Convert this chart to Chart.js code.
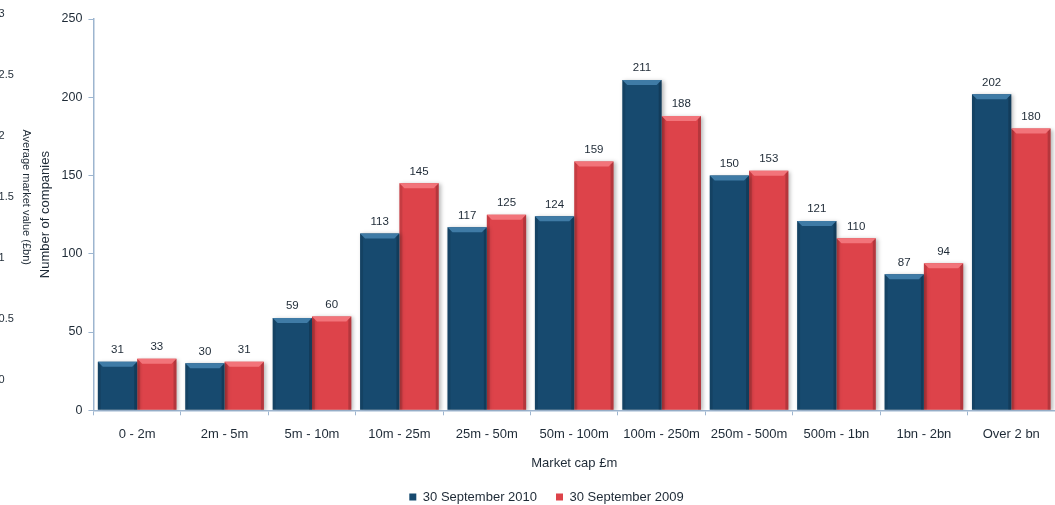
<!DOCTYPE html>
<html>
<head>
<meta charset="utf-8">
<script src="https://cdn.jsdelivr.net/npm/chart.js@4/dist/chart.umd.min.js"></script>
<style>
  html, body { margin: 0; padding: 0; background: #fff; overflow: hidden; width: 1055px; height: 505px; }
  #avgChart { position: absolute; left: -165px; top: 0; }
  #mainChart { position: absolute; left: 0; top: 0; }
</style>
</head>
<body>
<canvas id="avgChart" width="200" height="390"></canvas>
<canvas id="mainChart" width="1100" height="505"></canvas>
<script>
// market cap bands
const categories = ['0 - 2m', '2m - 5m', '5m - 10m', '10m - 25m', '25m - 50m', '50m - 100m',
    '100m - 250m', '250m - 500m', '500m - 1bn', '1bn - 2bn', 'Over 2 bn'];
// number of companies in each band
const sep2010 = [31, 30, 59, 113, 117, 124, 211, 150, 121, 87, 202];
const sep2009 = [33, 31, 60, 145, 125, 159, 188, 153, 110, 94, 180];
// the average market value axis on the left edge
const avgMin = 0;
const avgMax = 3;
const avgStep = 0.5;

const FONT = "'Liberation Sans', Arial, Helvetica, sans-serif";
const TEXT = '#1e2a36';
const AXIS = '#9db5cf';

const BLUE = '#174a6f';
const BLUE_TOP = '#3f7ba6';
const RED = '#dd434a';
const RED_TOP = '#f2747a';

// drop shadow behind the bars
const barShadow = {
    id: 'barShadow',
    beforeDatasetsDraw(chart) {
        const ctx = chart.ctx;
        ctx.save();
        ctx.shadowColor = 'rgba(0,0,0,0.28)';
        ctx.shadowBlur = 4;
        ctx.shadowOffsetX = 2;
        ctx.shadowOffsetY = 1;
    },
    afterDatasetsDraw(chart) {
        chart.ctx.restore();
    }
};

// bevelled top and darker sides on every bar, then the value above it
const barBevel = {
    id: 'barBevel',
    afterDatasetsDraw(chart) {
        const ctx = chart.ctx;
        const tops = [BLUE_TOP, RED_TOP];
        chart.data.datasets.forEach((ds, di) => {
            const meta = chart.getDatasetMeta(di);
            meta.data.forEach((bar, i) => {
                const l = bar.x - bar.width / 2;
                const r = bar.x + bar.width / 2;
                const t = bar.y;
                const b = bar.base;
                const s = Math.min(5, (b - t) / 2);
                ctx.save();
                ctx.fillStyle = tops[di];
                ctx.beginPath();
                ctx.moveTo(l, t);
                ctx.lineTo(r, t);
                ctx.lineTo(r - s, t + s);
                ctx.lineTo(l + s, t + s);
                ctx.closePath();
                ctx.fill();
                ctx.fillStyle = 'rgba(0,0,0,0.18)';
                ctx.beginPath();
                ctx.moveTo(r, t);
                ctx.lineTo(r, b);
                ctx.lineTo(r - 3, b);
                ctx.lineTo(r - 3, t + 3);
                ctx.closePath();
                ctx.fill();
                ctx.fillStyle = 'rgba(0,0,0,0.10)';
                ctx.beginPath();
                ctx.moveTo(l, t);
                ctx.lineTo(l + 3, t + 3);
                ctx.lineTo(l + 3, b);
                ctx.lineTo(l, b);
                ctx.closePath();
                ctx.fill();

                ctx.fillStyle = TEXT;
                ctx.font = '11.5px ' + FONT;
                ctx.textAlign = 'center';
                ctx.textBaseline = 'bottom';
                ctx.fillText(String(ds.data[i]), bar.x, t - 6);
                ctx.restore();
            });
        });
    }
};

new Chart(document.getElementById('mainChart'), {
    type: 'bar',
    data: {
        labels: categories,
        datasets: [
            { label: '30 September 2010', data: sep2010, backgroundColor: BLUE },
            { label: '30 September 2009', data: sep2009, backgroundColor: RED }
        ]
    },
    options: {
        responsive: false,
        animation: false,
        devicePixelRatio: 1,
        categoryPercentage: 0.9,
        barPercentage: 1,
        layout: { padding: { left: 38, right: 45, top: 19, bottom: -8.5 } },
        plugins: {
            tooltip: { enabled: false },
            legend: {
                position: 'bottom',
                labels: {
                    font: { family: FONT, size: 13, lineHeight: 1 },
                    color: TEXT,
                    boxWidth: 7,
                    boxHeight: 7,
                    padding: 19
                }
            }
        },
        scales: {
            x: {
                border: { color: AXIS, width: 1.5 },
                grid: { drawOnChartArea: false, color: AXIS, tickLength: 5, offset: true },
                ticks: { font: { family: FONT, size: 13 }, color: TEXT, padding: 11, maxRotation: 0 },
                title: {
                    display: true,
                    text: 'Market cap £m',
                    font: { family: FONT, size: 13 },
                    color: TEXT,
                    padding: { top: 3, bottom: 0 }
                }
            },
            y: {
                min: 0,
                max: 250,
                border: { color: AXIS, width: 1.5 },
                grid: { drawOnChartArea: false, color: AXIS, tickLength: 5 },
                ticks: { stepSize: 50, font: { family: FONT, size: 12.5 }, color: TEXT, padding: 6 },
                title: {
                    display: true,
                    text: 'Number of companies',
                    font: { family: FONT, size: 13 },
                    color: TEXT,
                    padding: { top: 0, bottom: 2 }
                }
            }
        }
    },
    plugins: [barShadow, barBevel]
});

// axis only: average market value scale with no bars
new Chart(document.getElementById('avgChart'), {
    type: 'bar',
    data: { labels: [], datasets: [] },
    options: {
        responsive: false,
        animation: false,
        devicePixelRatio: 1,
        layout: { padding: { top: 14, bottom: 5 } },
        plugins: { legend: { display: false }, tooltip: { enabled: false } },
        scales: {
            x: { display: false },
            y: {
                position: 'right',
                min: avgMin,
                max: avgMax,
                border: { display: false },
                grid: { display: false },
                ticks: {
                    stepSize: avgStep,
                    font: { family: FONT, size: 11 },
                    color: TEXT,
                    callback: (v) => String(v)
                },
                title: {
                    display: true,
                    text: 'Average market value (£bn)',
                    font: { family: FONT, size: 11 },
                    color: TEXT,
                    padding: { top: 2, bottom: 3 }
                }
            }
        }
    }
});
</script>
</body>
</html>
